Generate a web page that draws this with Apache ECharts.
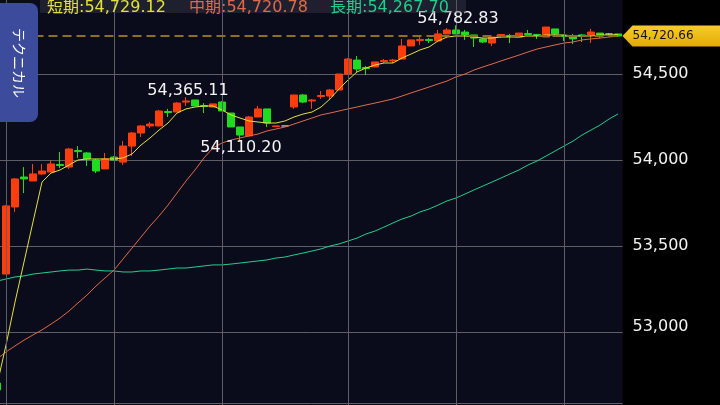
<!DOCTYPE html>
<html><head><meta charset="utf-8">
<script src="https://cdn.jsdelivr.net/npm/echarts@6/dist/echarts.min.js"></script>
<style>html,body{margin:0;padding:0;background:#000;}#c{width:720px;height:405px;}</style>
</head><body><div id="c"></div>
<script>
// ---- data ----
const categories = Array.from({length: 70}, (_, i) => 'c' + i);
// [open, close, low, high]
const candles = [
[52703,52663,52657,52709],[53337,53733,53337,53738],[53727,53890,53698,53895],[53901,53890,53808,53959],
[53878,53919,53878,53977],[53919,53936,53913,53977],[53930,53977,53930,54000],[53974,53968,53953,54047],
[53959,54064,53948,54070],[54055,54049,54012,54081],[54041,54006,53965,54047],[54000,53936,53924,54006],
[53948,54006,53948,54041],[54017,54000,54000,54023],[53988,54081,53971,54110],[54081,54157,54023,54163],
[54157,54198,54134,54203],[54198,54209,54186,54221],[54198,54285,54198,54291],[54282,54276,54250,54297],
[54279,54331,54279,54337],[54337,54343,54314,54365.11],[54349,54314,54314,54349],[54317,54311,54273,54331],
[54308,54326,54308,54326],[54337,54285,54285,54343],[54273,54192,54192,54273],[54192,54145,54110.20,54192],
[54140,54250,54140,54256],[54250,54297,54250,54314],[54297,54215,54192,54297],[54195,54198,54195,54198],
[54198,54198,54198,54198],[54308,54378,54297,54378],[54378,54337,54331,54384],[54343,54349,54297,54355],
[54369,54375,54355,54401],[54372,54407,54355,54413],[54407,54500,54407,54500],[54500,54587,54500,54593],
[54581,54529,54506,54605],[54538,54532,54494,54546],[54541,54570,54541,54570],[54573,54578,54564,54587],
[54576,54581,54564,54587],[54587,54663,54587,54704],[54663,54698,54663,54698],[54695,54701,54669,54727],
[54701,54695,54680,54709],[54692,54733,54692,54756],[54733,54756,54733,54767],[54756,54733,54733,54782.83],
[54744,54727,54698,54756],[54727,54709,54657,54727],[54704,54686,54680,54709],[54680,54715,54663,54715],
[54724,54730,54709,54733],[54724,54718,54680,54733],[54715,54738,54715,54738],[54735,54730,54715,54756],
[54730,54724,54704,54733],[54715,54773,54715,54773],[54762,54733,54721,54762],[54724,54718,54692,54727],
[54715,54704,54674,54733],[54727,54721,54686,54733],[54727,54744,54680,54762],[54738,54727,54709,54738],
[54733,54733,54727,54738],[54733,54720.66,54715,54733]
];
const maShort = [
52692,52924,53174,53407,53640,53872,53924,53942,53971,54000,
54006,54006,54006,54006,54012,54035,54087,54128,54174,54215,
54273,54297,54308,54314,54314,54291,54262,54244,54227,54221,
54215,54215,54227,54250,54267,54279,54308,54355,54413,54465,
54512,54535,54552,54564,54564,54593,54616,54640,54657,54692,
54715,54721,54721,54715,54709,54709,54715,54715,54715,54721,
54721,54727,54727,54727,54721,54721,54721,54727,54727,54729.12
];
const maMid = [
52843,52884,52919,52953,52983,53012,53046,53081,53122,53169,
53215,53267,53314,53360,53424,53488,53552,53616,53674,53738,
53808,53878,53942,54012,54070,54099,54116,54128,54140,54151,
54169,54180,54192,54209,54227,54244,54262,54273,54285,54297,
54308,54320,54331,54343,54355,54372,54390,54407,54424,54442,
54459,54483,54500,54523,54541,54558,54576,54593,54610,54628,
54645,54657,54669,54680,54686,54698,54704,54709,54715,54720.78
];
const maLong = [
53296,53308,53320,53326,53337,53343,53349,53355,53360,53360,
53366,53360,53355,53355,53349,53349,53355,53355,53360,53366,
53372,53372,53378,53384,53390,53390,53395,53401,53407,53413,
53419,53430,53436,53448,53459,53471,53483,53500,53512,53529,
53546,53570,53587,53610,53634,53657,53674,53698,53715,53738,
53762,53779,53802,53826,53849,53872,53895,53919,53942,53971,
53994,54023,54052,54081,54110,54145,54174,54203,54238,54267.70
];
const yTicks = [53000, 53500, 54000, 54500];
const splitIdx = [1, 13, 25, 39, 51, 63];
const lastPrice = 54720.66;
const legendNames = ['短期', '中期', '長期'];
const legendValues = [54729.12, 54720.78, 54267.70];
const extremes = [
  {idx: 21, value: 54365.11, kind: 'high'},
  {idx: 27, value: 54110.20, kind: 'low'},
  {idx: 51, value: 54782.83, kind: 'high'}
];
const tabLabel = 'テクニカル';

// ---- styles ----
const FONT = '"DejaVu Sans", "Noto Sans CJK JP", sans-serif';
const UP = '#ff3c0c', DOWN = '#1fdc1f';
const C_SHORT = '#e4e03a', C_MID = '#e06a48', C_LONG = '#1fd08c';
const GRID_C = '#5e5e66';
const fmt0 = v => v.toLocaleString('en-US');
const fmt2 = v => v.toLocaleString('en-US', {minimumFractionDigits: 2, maximumFractionDigits: 2});

const chart = echarts.init(document.getElementById('c'));
chart.setOption({
  animation: false,
  backgroundColor: '#000',
  grid: {left: -7.5, right: 97.5, top: -12, bottom: -13, show: true, backgroundColor: '#0a0c1c', borderWidth: 0,
    outerBoundsMode: 'none', containLabel: false},
  xAxis: {type: 'category', data: categories, boundaryGap: true,
    axisLine: {show: false}, axisTick: {show: false}, axisLabel: {show: false}, splitLine: {show: false}},
  yAxis: {type: 'value', position: 'right', min: 52500, max: 55000, interval: 500, scale: true,
    axisLine: {show: false}, axisTick: {show: false},
    splitLine: {show: true, lineStyle: {color: GRID_C, width: 1}},
    axisLabel: {color: '#f2f2f2', fontSize: 16, fontFamily: FONT, margin: 10,
      formatter: v => yTicks.includes(v) ? (v === yTicks[0] ? '{low|' + fmt0(v) + '}' : fmt0(v)) : '',
      rich: {low: {color: '#f2f2f2', fontSize: 16, fontFamily: FONT, padding: [0, 0, 11, 0]}}}},
  series: [
    {name: '長期', type: 'line', data: maLong, z: 1, symbol: 'none', silent: true,
      lineStyle: {color: C_LONG, width: 1},
      markLine: {silent: true, symbol: 'none', label: {show: false}, animation: false,
        data: splitIdx.map(i => ({xAxis: categories[i], lineStyle: {color: GRID_C, width: 1, type: 'solid'}}))
          .concat([{yAxis: lastPrice, lineStyle: {color: '#8d7020', width: 2, type: [9, 5]}}])}},
    {name: 'candle', type: 'candlestick', data: candles, z: 2, barWidth: 8,
      itemStyle: {color: UP, color0: DOWN, borderColor: UP, borderColor0: DOWN, borderColorDoji: '#b4b4b4', borderWidth: 1},
      markPoint: {silent: true, animation: false,
        data: extremes.map(e => ({coord: [categories[e.idx], e.value], symbol: 'circle', symbolSize: 1,
          itemStyle: {color: 'rgba(0,0,0,0)'},
          label: {show: true, position: 'inside', formatter: fmt2(e.value), color: '#f4f4f4', fontSize: 16,
            fontFamily: FONT, offset: e.kind === 'high' ? [2, -6.5] : [1, 7]}}))}},
    {name: '中期', type: 'line', data: maMid, z: 3, symbol: 'none', silent: true, lineStyle: {color: C_MID, width: 1}},
    {name: '短期', type: 'line', data: maShort, z: 4, symbol: 'none', silent: true, lineStyle: {color: C_SHORT, width: 1}}
  ]
});

// ---- overlay (tab, legend strip, price tag) ----
const pp = chart.convertToPixel({gridIndex: 0}, [categories[69], lastPrice]);
const py = pp[1];
const gx = pp[0] + 4.5;
const legendColors = [C_SHORT, C_MID, C_LONG];
const legendX = [47, 189, 330];
chart.setOption({
  graphic: [
    {type: 'rect', z: 50, shape: {x: 40, y: 0, width: 426, height: 13}, style: {fill: 'rgba(70,72,86,0.35)'}},
    ...legendNames.map((n, i) => ({type: 'text', z: 51, x: legendX[i], y: 0,
      style: {text: n + ':' + fmt2(legendValues[i]), fill: legendColors[i], font: '16px ' + FONT, align: 'left', verticalAlign: 'top'}})),
    {type: 'rect', z: 50, shape: {x: -10, y: 3, width: 48, height: 119, r: 8}, style: {fill: '#3d4b9c'}},
    {type: 'text', z: 51, x: 19, y: 63, rotation: -Math.PI / 2,
      style: {text: tabLabel, fill: '#ffffff', font: '14px "Noto Sans CJK JP", sans-serif', align: 'center', verticalAlign: 'middle'}},
    {type: 'line', z: 50, shape: {x1: 0, y1: 403.5, x2: gx, y2: 403.5}, style: {stroke: GRID_C, lineWidth: 1}},
    {type: 'polygon', z: 52, shape: {points: [[gx, py], [gx + 10, py - 10.5], [722, py - 10.5], [722, py + 10.5], [gx + 10, py + 10.5]]},
      style: {fill: new echarts.graphic.LinearGradient(0, 0, 0, 1, [{offset: 0, color: '#f7cc2a'}, {offset: 1, color: '#e2aa06'}])}},
    {type: 'text', z: 53, x: gx + 10, y: py,
      style: {text: fmt2(lastPrice), fill: '#111', font: '12px ' + FONT, align: 'left', verticalAlign: 'middle'}}
  ]
});
</script>
</body></html>
